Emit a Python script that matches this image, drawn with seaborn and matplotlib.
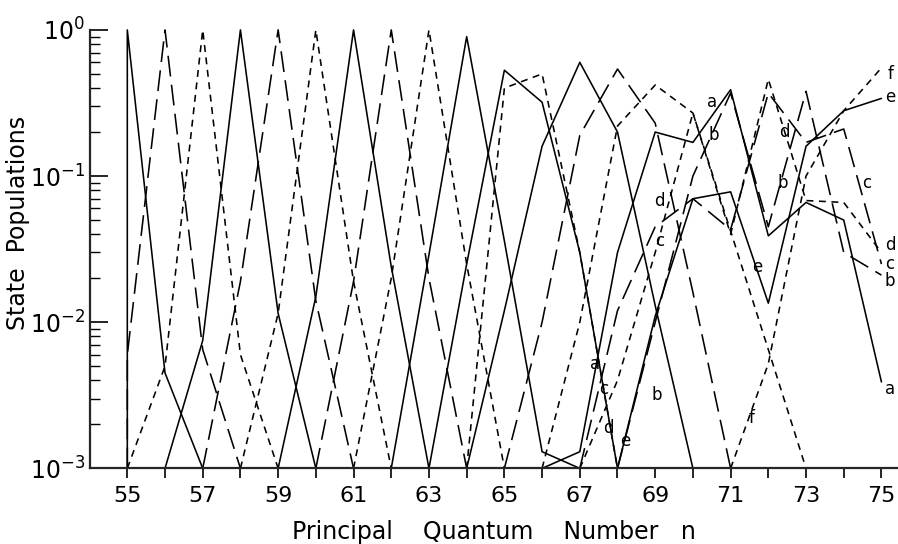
import numpy as np
import seaborn as sns
import matplotlib.pyplot as plt
from matplotlib.ticker import FixedLocator, LogLocator, NullFormatter

# curves peaked near 1 (n = 55 ... 64)
n55 = [55, 55, 56, 57]
p55 = [1e-3, 1.0, 4.5e-3, 1e-3]
n56 = [55, 55, 56, 57, 58]
p56 = [1e-3, 6e-3, 1.0, 6.5e-3, 1e-3]
n57 = [55, 56, 57, 58, 59]
p57 = [1e-3, 5e-3, 1.0, 6e-3, 1e-3]
n58 = [56, 57, 58, 59, 60]
p58 = [1e-3, 7.5e-3, 1.0, 1.15e-2, 1e-3]
n59 = [57, 58, 59, 60, 61]
p59 = [1e-3, 1.9e-2, 1.0, 1.4e-2, 1e-3]
n60 = [58, 59, 60, 61, 62]
p60 = [1e-3, 1.15e-2, 1.0, 1.9e-2, 1e-3]
n61 = [59, 60, 61, 62, 63]
p61 = [1e-3, 1.5e-2, 1.0, 2.4e-2, 1e-3]
n62 = [60, 61, 62, 63, 64]
p62 = [1e-3, 1.9e-2, 1.0, 2.0e-2, 1e-3]
n63 = [61, 62, 63, 64, 65]
p63 = [1e-3, 2.0e-2, 1.0, 2.5e-2, 1e-3]
n64 = [62, 63, 64, 65, 66, 67]
p64 = [1e-3, 2.9e-2, 0.9, 3.6e-2, 1.3e-3, 1e-3]

# broader distributions
n65 = [63, 64, 65, 66, 67, 68]
p65 = [1e-3, 2.5e-2, 0.53, 0.32, 3e-2, 1e-3]
n66 = [64, 65, 66, 67, 68]
p66 = [1e-3, 0.40, 0.50, 3e-2, 1e-3]
n67 = [64, 65, 66, 67, 68, 69, 70]
p67 = [1e-3, 1.2e-2, 0.16, 0.60, 0.20, 1.3e-2, 1e-3]
n68 = [65, 66, 67, 68, 69, 70, 71]
p68 = [1e-3, 1e-2, 0.19, 0.54, 0.23, 1.6e-2, 1e-3]
n69 = [66, 67, 68, 69, 70, 71, 72, 73]
p69 = [1e-3, 1e-2, 0.22, 0.42, 0.27, 4.2e-2, 6.5e-3, 1e-3]

# labelled curves a - f
n_a = [66, 67, 68, 69, 70, 71, 72, 73, 74, 75]
p_a = [1e-3, 1.3e-3, 3e-2, 0.20, 0.17, 0.39, 3.9e-2, 6.6e-2, 5e-2, 3.9e-3]
n_b = [68, 69, 70, 71, 72, 73, 74, 75]
p_b = [1e-3, 1e-2, 0.10, 0.37, 4.5e-2, 0.38, 3e-2, 2.1e-2]
n_c = [67, 68, 69, 70, 71, 72, 73, 74, 75]
p_c = [1e-3, 1.2e-2, 4.5e-2, 7e-2, 4.3e-2, 0.37, 0.17, 0.21, 2.5e-2]
n_d = [67, 68, 69, 70, 71, 72, 73, 74, 75]
p_d = [1e-3, 4e-3, 3e-2, 0.27, 4e-2, 0.46, 6.8e-2, 6.6e-2, 3e-2]
n_e = [68, 69, 70, 71, 72, 73, 74, 75]
p_e = [1e-3, 1.1e-2, 7e-2, 7.8e-2, 1.35e-2, 0.16, 0.28, 0.34]
n_f = [71, 72, 73, 74, 75]
p_f = [1e-3, 5.2e-3, 0.10, 0.28, 0.55]

solid = '-'
long_dash = (0, (15, 6))
short_dash = (0, (5, 4))

curves = [
    (n55, p55, solid), (n56, p56, long_dash), (n57, p57, short_dash),
    (n58, p58, solid), (n59, p59, long_dash), (n60, p60, short_dash),
    (n61, p61, solid), (n62, p62, long_dash), (n63, p63, short_dash),
    (n64, p64, solid), (n65, p65, solid), (n66, p66, short_dash),
    (n67, p67, solid), (n68, p68, long_dash), (n69, p69, short_dash),
    (n_a, p_a, solid), (n_b, p_b, long_dash), (n_c, p_c, long_dash),
    (n_d, p_d, short_dash), (n_e, p_e, solid), (n_f, p_f, short_dash),
]

# curve letters written on the plot (n, population)
letter_marks = [
    ('a', 67.40, 5.2e-3), ('c', 67.63, 3.5e-3), ('d', 67.76, 1.9e-3),
    ('e', 68.20, 1.55e-3), ('b', 69.04, 3.2e-3), ('f', 71.56, 2.2e-3),
    ('a', 70.50, 0.32), ('b', 70.54, 0.19), ('d', 69.11, 6.7e-2),
    ('c', 69.13, 3.6e-2), ('e', 71.70, 2.4e-2), ('d', 72.42, 0.20),
    ('b', 72.38, 8.9e-2), ('c', 74.61, 9.0e-2),
    ('f', 75.23, 0.50), ('e', 75.23, 0.35), ('d', 75.23, 3.4e-2),
    ('c', 75.23, 2.5e-2), ('b', 75.23, 1.9e-2), ('a', 75.23, 3.5e-3),
]

sns.set_style("ticks")
plt.rcParams['font.family'] = ['DejaVu Sans']
plt.rcParams['lines.scale_dashes'] = False
plt.rcParams['text.color'] = 'black'
plt.rcParams['axes.labelcolor'] = 'black'
plt.rcParams['xtick.color'] = 'black'
plt.rcParams['ytick.color'] = 'black'

fig = plt.figure(figsize=(8.98, 5.44), dpi=100)
ax = fig.add_axes([0.1002, 0.139, 0.899, 0.806])

for xs, ys, ls in curves:
    sns.lineplot(x=xs, y=ys, ax=ax, color='black', linewidth=1.15, linestyle=ls,
                 sort=False, estimator=None, clip_on=False)

for t, xv, yv in letter_marks:
    ax.text(xv, yv, t, fontsize=12, va='center', ha='center', color='black')

ax.set_yscale('log')
ax.set_ylim(1e-3, 1.0)
ax.set_xlim(54.01, 75.42)

ax.xaxis.set_major_locator(FixedLocator(range(55, 76)))
ax.set_xticklabels([str(n) if n % 2 else '' for n in range(55, 76)])
ax.yaxis.set_major_locator(LogLocator(base=10))
ax.yaxis.set_minor_locator(LogLocator(base=10, subs=np.arange(2, 10)))
ax.yaxis.set_minor_formatter(NullFormatter())

ax.tick_params(axis='x', direction='out', length=7, width=1.2, labelsize=16, pad=6)
ax.tick_params(axis='y', which='major', direction='in', length=13, width=1.2, labelsize=17)
ax.tick_params(axis='y', which='minor', direction='in', length=7, width=1.0)

for s in ['top', 'right']:
    ax.spines[s].set_visible(False)
for s in ['left', 'bottom']:
    ax.spines[s].set_linewidth(1.6)

ax.set_xlabel('Principal    Quantum    Number   n', fontsize=17, labelpad=10)
ax.set_ylabel('State  Populations', fontsize=17)
ax.yaxis.set_label_coords(-0.074, 0.56)

fig.savefig('out.png', dpi=100)
